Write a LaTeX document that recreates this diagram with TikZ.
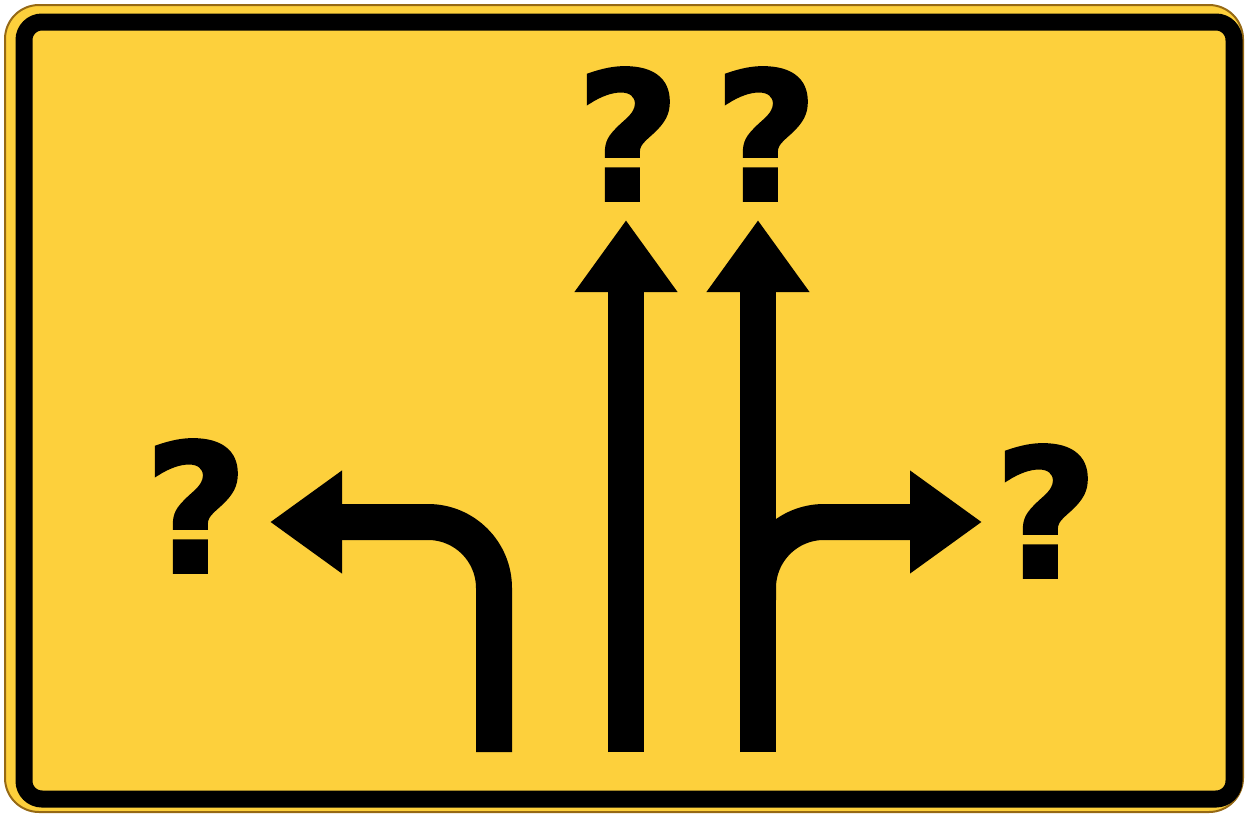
\documentclass[tikz,border=0pt]{standalone}
\usepackage{fontspec}
\setmainfont{DejaVu Sans}
\newfontfamily\signfont{DejaVu Sans}[BoldFeatures={FakeBold=2}]
\usepackage{xcolor}
\usepackage{tikz}
\usetikzlibrary{arrows.meta, positioning}
\definecolor{signyellow}{RGB}{253,208,60}
\definecolor{signedge}{RGB}{150,105,20}

\begin{document}
\begin{tikzpicture}[x=1pt, y=-1pt]
    % Define styles
    \tikzstyle{lane} = [line width=36pt, line cap=butt, -{Triangle[length=72pt, width=98pt]}]
    \tikzstyle{query} = [inner sep=0pt, anchor=base, font=\fontsize{178}{178}\signfont\bfseries]

    \useasboundingbox (0,0) rectangle (1248,817);

    % Sign plate
    \draw[signedge, fill=signyellow, line width=2pt, rounded corners=34pt] (5,5) rectangle (1243,812);
    \draw[line width=17pt, rounded corners=18pt] (24,22) rectangle (1234,799);

    % Lane ends
    \coordinate (lbase) at (494,752);
    \coordinate (ltip) at (270,522);
    \coordinate (s1base) at (626,752);
    \coordinate (s1tip) at (626,220);
    \coordinate (s2base) at (758,752);
    \coordinate (s2tip) at (758,220);
    \coordinate (rbranch) at (758,600);
    \coordinate (rtip) at (982,522);

    % Lanes
    \draw[lane, rounded corners=66pt] (lbase) |- (ltip);
    \draw[lane, rounded corners=66pt] (rbranch) |- (rtip);
    \draw[lane] (s1base) -- (s1tip);
    \draw[lane] (s2base) -- (s2tip);

    % Destinations
    \node[query] (qleft) at (196,572) {?};
    \node[query] (qup1) at (628,200) {?};
    \node[query] (qup2) at (766,200) {?};
    \node[query] (qright) at (1046,577) {?};
\end{tikzpicture}
\end{document}
